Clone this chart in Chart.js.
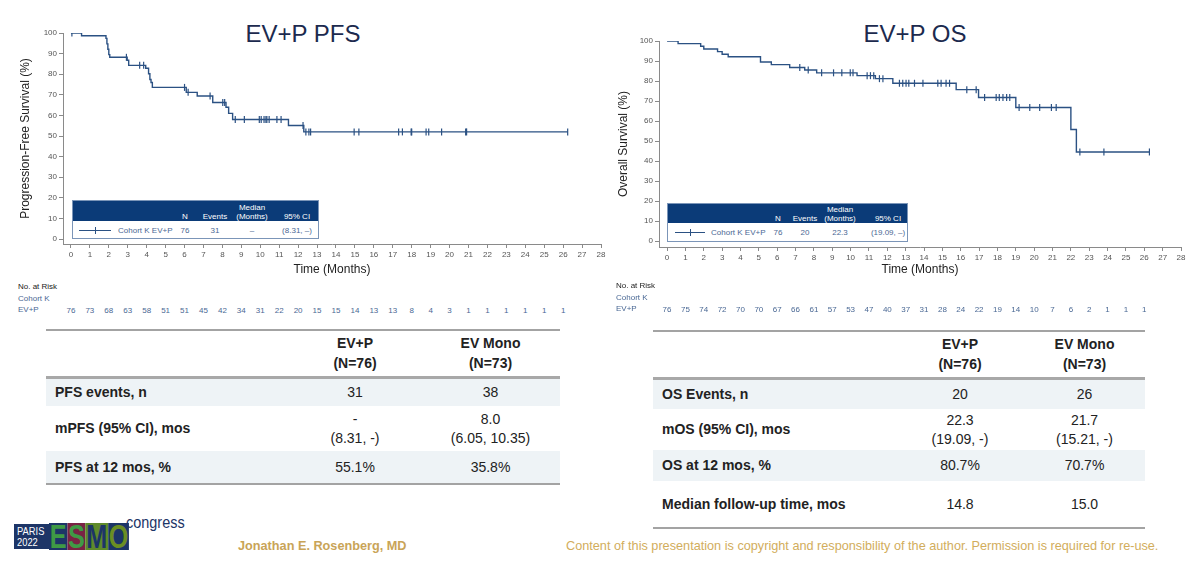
<!DOCTYPE html>
<html>
<head>
<meta charset="utf-8">
<script src="https://cdn.jsdelivr.net/npm/chart.js@4.4.0/dist/chart.umd.min.js"></script>
<style>
  body { margin: 0; background: #fff; font-family: "Liberation Sans", Arial, sans-serif; }
  #page { position: relative; width: 1200px; height: 574px; overflow: hidden; }
  .abs { position: absolute; white-space: nowrap; }
  .ttl { font-size: 24px; color: #1c2a4e; transform: translate(-50%, -50%); }
  canvas { position: absolute; top: 0; }
  .risk { font-size: 8px; color: #4a6894; transform: translate(-50%, -50%); }
  .riskHead { font-size: 8px; color: #222; }
  .riskCoh { font-size: 8px; color: #4a6894; }
  .lg { position: absolute; border: 1px solid #7b95b8; background: #fff; box-sizing: border-box; }
  .lg .hd { position: absolute; left: 0; right: 0; top: 0; background: #0b3b78; }
  .lg span { position: absolute; font-size: 8px; line-height: 9px; transform: translateX(-50%); white-space: nowrap; }
  table.st { position: absolute; border-collapse: collapse; font-size: 14px; color: #222; }
  table.st td { padding: 0; text-align: center; vertical-align: middle; line-height: 19px; }
  table.st td.lab { text-align: left; padding-left: 9px; font-weight: bold; }
  table.st tr.head td { font-weight: bold; line-height: 20px; border-top: 2px solid #a3a3a3; border-bottom: 3px solid #a8a8a8; }
  table.st tr.shade td { background: #eef3f6; }
  table.st tr.last td { border-bottom: 2px solid #a3a3a3; }
  .foot { font-size: 12.7px; color: #d2ad5c; transform: translateY(-50%); }
  .narrow { transform-origin: 0 0; font-family: "Liberation Sans", Arial, sans-serif; }
</style>
</head>
<body>
<div id="page">
  <div class="abs ttl" style="left:303px;top:34px">EV+P PFS</div>
  <div class="abs ttl" style="left:915px;top:34px">EV+P OS</div>
  <canvas id="pfs" width="612" height="282" style="left:0"></canvas>
  <canvas id="os" width="592" height="282" style="left:600px"></canvas>
</div>
<script>
// month ticks and percent ticks on both axes
const monthTicks = [0,1,2,3,4,5,6,7,8,9,10,11,12,13,14,15,16,17,18,19,20,21,22,23,24,25,26,27,28];
const pctTicks = [0,10,20,30,40,50,60,70,80,90,100];

// PFS Kaplan-Meier steps (months, %) and censor times
const pfsTime = [0, 0.56, 1.85, 1.9, 1.95, 2.0, 2.05, 2.97, 3.05, 3.95, 4.1, 4.17, 4.23, 4.3, 6.09, 6.67, 7.49, 8.19, 8.33, 8.54, 11.49, 12.3];
const pfsSurv = [100, 98.7, 97.4, 94.7, 92.1, 89.5, 88.2, 86.8, 84.3, 82.9, 80.2, 77.4, 76.0, 73.6, 71.2, 69.4, 66.3, 64.0, 61.0, 58.0, 55.1, 52.0];
const pfsCensor = [0.05, 2.93, 3.63, 3.84, 6.0, 6.19, 7.35, 8.02, 8.12, 8.68, 9.16, 9.95, 10.05, 10.2, 10.3, 10.35, 10.47, 10.88, 11.1, 12.26, 12.41, 12.57, 12.66, 14.96, 15.21, 17.31, 17.51, 17.97, 18.0, 18.76, 18.9, 19.58, 20.85, 20.9, 26.24];
const pfsRisk = [76, 73, 68, 63, 58, 51, 51, 45, 42, 34, 31, 22, 20, 15, 15, 14, 13, 13, 8, 4, 3, 1, 1, 1, 1, 1, 1];

// OS Kaplan-Meier steps (months, %) and censor times
const osTime = [0, 0.6, 1.83, 2.0, 2.75, 3.0, 3.33, 5.09, 5.68, 6.68, 7.5, 8.15, 10.35, 11.35, 12.3, 15.75, 16.97, 19.0, 22.0, 22.3];
const osSurv = [100, 98.7, 97.4, 96.0, 94.7, 93.4, 92.1, 89.5, 88.2, 86.8, 85.5, 84.1, 82.7, 81.2, 78.9, 75.7, 71.8, 66.8, 55.8, 44.6];
const osCensor = [7.23, 7.69, 8.42, 9.07, 9.52, 9.98, 10.13, 10.9, 11.08, 11.26, 11.57, 11.76, 12.66, 12.84, 13.02, 13.17, 13.48, 13.94, 14.75, 14.93, 15.2, 15.39, 16.33, 16.84, 17.3, 17.93, 18.1, 18.3, 18.5, 18.67, 19.18, 19.76, 20.3, 20.94, 21.2, 22.49, 23.8, 26.28];
const osRisk = [76, 75, 74, 72, 70, 70, 67, 66, 61, 57, 53, 47, 40, 37, 31, 28, 24, 22, 19, 14, 10, 7, 6, 2, 1, 1, 1];

// legend box contents
const legendHead = ['N', 'Events', 'Median', '(Months)', '95% CI'];
const pfsLegend = ['Cohort K EV+P', '76', '31', '\u2013', '(8.31, \u2013)'];
const osLegend = ['Cohort K EV+P', '76', '20', '22.3', '(19.09, \u2013)'];

// summary tables
const tableHead = [['EV+P', '(N=76)'], ['EV Mono', '(N=73)']];
const pfsRows = [
  ['PFS events, n', ['31'], ['38']],
  ['mPFS (95% CI), mos', ['-', '(8.31, -)'], ['8.0', '(6.05, 10.35)']],
  ['PFS at 12 mos, %', ['55.1%'], ['35.8%']]
];
const osRows = [
  ['OS Events, n', ['20'], ['26']],
  ['mOS (95% CI), mos', ['22.3', '(19.09, -)'], ['21.7', '(15.21, -)']],
  ['OS at 12 mos, %', ['80.7%'], ['70.7%']],
  ['Median follow-up time, mos', ['14.8'], ['15.0']]
];

const CURVE = '#2b5183';
const AXIS = '#8a8a8a';
const TICK = '#555';
const page = document.getElementById('page');

function levelAt(times, surv, t) {
  let v = surv[0];
  times.forEach((x, i) => { if (x <= t) v = surv[i]; });
  return v;
}

function kmChart(id, o) {
  const line = o.times.map((t, i) => ({ x: t, y: o.surv[i] }));
  line.push({ x: o.censor[o.censor.length - 1], y: o.surv[o.surv.length - 1] });
  const marks = o.censor.map(t => ({ x: t, y: levelAt(o.times, o.surv, t) }));
  return new Chart(document.getElementById(id), {
    type: 'line',
    data: {
      datasets: [
        { data: line, stepped: true, borderColor: CURVE, borderWidth: 1.4, pointRadius: 0, fill: false },
        { data: marks, showLine: false, pointStyle: 'line', rotation: 90, pointRadius: 3.5,
          borderColor: CURVE, pointBorderWidth: 1.2 }
      ]
    },
    options: {
      responsive: false,
      animation: false,
      devicePixelRatio: 1,
      layout: { padding: { left: 0, right: 11, top: o.top, bottom: 4 } },
      plugins: { legend: { display: false }, tooltip: { enabled: false } },
      scales: {
        x: {
          type: 'linear', min: o.xMin, max: 28,
          afterBuildTicks: s => { s.ticks = monthTicks.map(v => ({ value: v })); },
          afterFit: s => { s.height = o.xH; },
          grid: { drawOnChartArea: false, tickLength: 4, color: AXIS },
          border: { color: AXIS },
          ticks: { font: { size: 8 }, color: TICK, padding: 2, maxRotation: 0, autoSkip: false },
          title: { display: true, text: 'Time (Months)', font: { size: 12 }, color: '#222', padding: { top: 0, bottom: 1 } }
        },
        y: {
          type: 'linear', min: o.yMin, max: 100,
          afterBuildTicks: s => { s.ticks = pctTicks.map(v => ({ value: v })); },
          afterFit: s => { s.width = o.yW; },
          grid: { drawOnChartArea: false, tickLength: 4, color: AXIS },
          border: { color: AXIS },
          ticks: { font: { size: 8 }, color: TICK, padding: 2 },
          title: { display: true, text: o.yTitle, font: { size: 12 }, color: '#222', padding: { top: o.yTitlePad, bottom: 0 } }
        }
      }
    }
  });
}

const pfsChart = kmChart('pfs', { times: pfsTime, surv: pfsSurv, censor: pfsCensor, top: 33, xH: 34, yW: 63,
  xMin: -0.42, yMin: -2.4, yTitle: 'Progression-Free Survival (%)', yTitlePad: 18 });
const osChart = kmChart('os', { times: osTime, surv: osSurv, censor: osCensor, top: 41, xH: 31, yW: 59,
  xMin: -0.44, yMin: -2.85, yTitle: 'Overall Survival (%)', yTitlePad: 16 });

function add(html, cls, style) {
  const d = document.createElement('div');
  d.className = 'abs ' + cls;
  d.setAttribute('style', style);
  d.innerHTML = html;
  page.appendChild(d);
  return d;
}

// numbers at risk under each plot, one per month tick
function atRisk(chart, offX, risk, labelX, y0) {
  add('No. at Risk', 'riskHead', `left:${labelX}px;top:${y0 - 6}px`);
  add('Cohort K', 'riskCoh', `left:${labelX}px;top:${y0 + 6}px`);
  add('EV+P', 'riskCoh', `left:${labelX}px;top:${y0 + 17}px`);
  risk.forEach((n, i) => {
    const x = offX + chart.scales.x.getPixelForValue(monthTicks[i]);
    add(String(n), 'risk', `left:${x}px;top:${y0 + 22}px`);
  });
}
atRisk(pfsChart, 0, pfsRisk, 18, 288);
atRisk(osChart, 600, osRisk, 616, 287);

// legend box inside each plot
function legendBox(b, vals) {
  const d = document.createElement('div');
  d.className = 'lg';
  d.setAttribute('style', `left:${b.left}px;top:${b.top}px;width:${b.w}px;height:${b.h}px`);
  const hd = document.createElement('div');
  hd.className = 'hd';
  hd.style.height = b.hh + 'px';
  d.appendChild(hd);
  const put = (txt, x, y, col) => {
    const s = document.createElement('span');
    s.textContent = txt;
    s.style.left = (x - b.left) + 'px';
    s.style.top = y + 'px';
    s.style.color = col;
    d.appendChild(s);
  };
  const rowY = b.hh - 9;
  put(legendHead[0], b.cols[0], rowY, '#fff');
  put(legendHead[1], b.cols[1], rowY, '#fff');
  put(legendHead[2], b.cols[2], rowY - 9, '#fff');
  put(legendHead[3], b.cols[2], rowY, '#fff');
  put(legendHead[4], b.cols[3], rowY, '#fff');
  const ly = b.hh + (b.h - b.hh) / 2 - 5;
  const ln = document.createElement('div');
  ln.setAttribute('style', `position:absolute;left:${b.line[0] - b.left}px;top:${ly + 4}px;width:${b.line[1] - b.line[0]}px;height:1px;background:${CURVE}`);
  d.appendChild(ln);
  const tk = document.createElement('div');
  tk.setAttribute('style', `position:absolute;left:${(b.line[0] + b.line[1]) / 2 - b.left}px;top:${ly + 1}px;width:1px;height:7px;background:${CURVE}`);
  d.appendChild(tk);
  const lab = document.createElement('span');
  lab.textContent = vals[0];
  lab.setAttribute('style', `left:${b.labX - b.left}px;top:${ly}px;transform:none;color:#4a6894`);
  d.appendChild(lab);
  for (let i = 1; i < 5; i++) put(vals[i], b.cols[i - 1], ly, '#4a6894');
  page.appendChild(d);
}
legendBox({ left: 72, top: 200, w: 247, h: 39, hh: 20, cols: [184, 214, 251, 296], line: [78, 110], labX: 117 }, pfsLegend);
legendBox({ left: 667, top: 203, w: 241, h: 39, hh: 19, cols: [777, 804, 839, 887], line: [674, 704], labX: 710 }, osLegend);

// summary tables
function summary(left, top, widths, heights, rows) {
  const t = document.createElement('table');
  t.className = 'st';
  t.style.left = left + 'px';
  t.style.top = top + 'px';
  let h = `<tr class="head" style="height:${heights[0]}px"><td style="width:${widths[0]}px"></td>` +
    tableHead.map((c, i) => `<td style="width:${widths[i + 1]}px">${c.join('<br>')}</td>`).join('') + '</tr>';
  rows.forEach((r, i) => {
    const cls = (i % 2 === 0 ? 'shade' : '') + (i === rows.length - 1 ? ' last' : '');
    h += `<tr class="${cls}" style="height:${heights[i + 1]}px"><td class="lab">${r[0]}</td>` +
      `<td>${r[1].join('<br>')}</td><td>${r[2].join('<br>')}</td></tr>`;
  });
  t.innerHTML = h;
  page.appendChild(t);
}
summary(46, 329, [243, 132, 139], [47, 29, 45, 33], pfsRows);
summary(653, 330, [243, 128, 121], [47, 31, 41, 31, 47], osRows);

// footer: congress logo, presenter and notice
add('', '', 'left:14px;top:524px;width:35px;height:25px;background:#1d3567;');
add('PARIS<br>2022', 'narrow', 'left:17px;top:526px;color:#fff;font-size:11px;line-height:10.5px;transform:scaleX(0.85)');
add('<span style="background:#1d3567;color:#3f9a45;padding:0 1px">E</span><span style="background:#7a2344;color:#3f9a45;padding:0 1px">S</span><span style="background:#5f8a2b;color:#1d3567;padding:0 1px">M</span><span style="background:#1d3567;color:#6b8e23;padding:0 1px">O</span>',
  'narrow', 'left:49px;top:523px;height:27px;font-weight:bold;font-size:34px;line-height:27px;transform:scaleX(0.74);overflow:hidden');
add('congress', 'narrow', 'left:126px;top:513px;font-size:17px;color:#1d3567;transform:scaleX(0.85)');
add('Jonathan E. Rosenberg, MD', 'foot', 'left:238px;top:546px;font-weight:bold;color:#c9a457');
add('Content of this presentation is copyright and responsibility of the author. Permission is required for re-use.', 'foot', 'left:566px;top:546px');
</script>
</body>
</html>
